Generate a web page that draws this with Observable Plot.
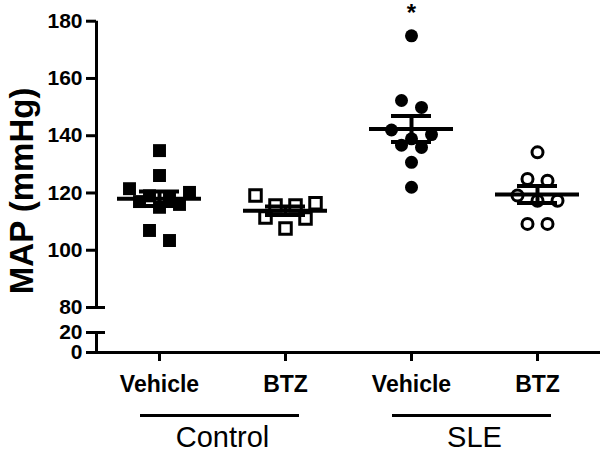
<!DOCTYPE html>
<html>
<head>
<meta charset="utf-8">
<script src="https://cdn.jsdelivr.net/npm/d3@7"></script>
<script src="https://cdn.jsdelivr.net/npm/@observablehq/plot@0.6"></script>
<style>
  body { margin: 0; background: #fff; }
  #chart svg { display: block; }
</style>
</head>
<body>
<div id="chart"></div>
<script>
// ---- data ----
const categories = ["Vehicle", "BTZ", "Vehicle", "BTZ"];
const groupNames = ["Control", "SLE"];
const groupOf = [0, 0, 1, 1];
const controlVehicle = [134.8, 126.1, 121.5, 120.2, 119, 118, 117, 116, 115, 106.9, 103.4];
const controlBTZ = [119.1, 116.4, 115.6, 115.6, 111.4, 107.6, 111.1];
const sleVehicle = [174.9, 152.3, 149.9, 142.0, 140.4, 138.9, 135.9, 136.7, 130.7, 122.0];
const sleBTZ = [134.2, 124.9, 124.3, 119.1, 117.3, 117.3, 109.2, 109.2];
const yTicks = [0, 20, 80, 100, 120, 140, 160, 180];
const yBreak = [20, 80];
const significance = [{index: 2, label: "*"}];
const yTitle = "MAP (mmHg)";

// ---- layout ----
const W = 600, H = 451, mL = 96, mR = 0, mT = 20.7, mB = 99;
const xDomain = [-0.5, 3.5];
const yDomain = [0, 20, 80, 180];
const yRange = [H - mB, H - mB - 20, H - mB - 45, mT];
const font = "'Liberation Sans', Arial, Helvetica, sans-serif";

const xScale = Plot.scale({x: {domain: xDomain, range: [mL, W - mR]}});
const yScale = Plot.scale({y: {type: "linear", domain: yDomain, range: yRange}});

// GraphPad-like scatter spreading: rows of near-equal values, spread symmetrically
function swarm(values, index, spacing = 20, rowH = 12.5) {
  const pts = values.map(v => ({v, py: yScale.apply(v)})).sort((a, b) => a.py - b.py);
  const rows = []; let cur = null;
  for (const p of pts) {
    if (!cur || p.py - cur[0].py >= rowH) { cur = [p]; rows.push(cur); } else cur.push(p);
  }
  const cx = xScale.apply(index);
  const out = [];
  for (const row of rows) {
    const n = row.length;
    const slots = d3.range(n).map(k => (k - (n - 1) / 2) * spacing);
    const order = []; let l = 0, r = n - 1, left = true;
    while (l <= r) { order.push(left ? l++ : r--); left = !left; }
    row.forEach((p, k) => out.push({index, value: p.v, x: xScale.invert(cx + slots[order[k]])}));
  }
  return out;
}

const series = [controlVehicle, controlBTZ, sleVehicle, sleBTZ];
const pts = series.map((vals, i) => swarm(vals, i));
const stats = series.map((vals, i) => {
  const m = d3.mean(vals), s = d3.deviation(vals) / Math.sqrt(vals.length);
  return {index: i, mean: m, lo: m - s, hi: m + s};
});
const groupData = groupNames.map((name, g) => {
  const idx = groupOf.map((gg, i) => gg === g ? i : null).filter(d => d !== null);
  return {name, first: d3.min(idx), last: d3.max(idx), mid: d3.mean(idx)};
});
const sigData = significance.map(s => ({...s, y: d3.max(series[s.index])}));
const axisSegments = [{lo: yDomain[0], hi: yBreak[0]}, {lo: yBreak[1], hi: yDomain[3]}];

const chart = Plot.plot({
  width: W, height: H,
  marginLeft: mL, marginRight: mR, marginTop: mT, marginBottom: mB,
  style: {fontFamily: font, background: "#fff", color: "#000", overflow: "visible"},
  x: {domain: xDomain},
  y: {type: "linear", domain: yDomain, range: yRange},
  marks: [
    // axis lines
    Plot.ruleX(axisSegments, {x: () => xDomain[0], y1: "lo", y2: "hi", stroke: "#000", strokeWidth: 3}),
    Plot.ruleY([yDomain[0]], {stroke: "#000", strokeWidth: 3}),
    Plot.ruleY(yBreak, {x1: () => xDomain[0], x2: () => xDomain[0], insetRight: -9, stroke: "#000", strokeWidth: 3}),
    Plot.axisY({ticks: yTicks, tickSize: 10, tickPadding: 4, strokeWidth: 3, fontSize: 21, fontWeight: "bold", label: null, tickFormat: d => String(d)}),
    Plot.axisX({ticks: [0, 1, 2, 3], tickFormat: i => categories[i], tickSize: 9, tickPadding: 14, strokeWidth: 3, fontSize: 23, fontWeight: "bold", label: null}),
    // points
    Plot.dot(pts[0], {x: "x", y: "value", symbol: "square", r: 7.3, fill: "#000"}),
    Plot.dot(pts[1], {x: "x", y: "value", symbol: "square", r: 6.5, fill: "#fff", stroke: "#000", strokeWidth: 3}),
    Plot.dot(pts[2], {x: "x", y: "value", symbol: "circle", r: 6.5, fill: "#000"}),
    Plot.dot(pts[3], {x: "x", y: "value", symbol: "circle", r: 5.5, fill: "#fff", stroke: "#000", strokeWidth: 3}),
    // mean and SEM
    Plot.ruleY(stats, {y: "mean", x1: "index", x2: "index", insetLeft: -42, insetRight: -42, stroke: "#000", strokeWidth: 4}),
    Plot.ruleX(stats, {x: "index", y1: "lo", y2: "hi", stroke: "#000", strokeWidth: 4}),
    Plot.ruleY(stats, {y: "lo", x1: "index", x2: "index", insetLeft: -20, insetRight: -20, stroke: "#000", strokeWidth: 4}),
    Plot.ruleY(stats, {y: "hi", x1: "index", x2: "index", insetLeft: -20, insetRight: -20, stroke: "#000", strokeWidth: 4}),
    // significance
    Plot.text(sigData, {x: "index", y: "y", text: "label", dy: -22, fontSize: 24, fontWeight: "bold", fill: "#000"}),
    // group brackets
    Plot.ruleY(groupData, {y: () => yDomain[0], x1: "first", x2: "last", dy: 63, insetLeft: -19, insetRight: -14, stroke: "#000", strokeWidth: 3}),
    Plot.text(groupData, {x: "mid", y: () => yDomain[0], text: "name", dy: 85, fontSize: 29, fontWeight: "normal", fill: "#000"}),
    // y title
    Plot.text([yTitle], {text: d => d, frameAnchor: "left", textAnchor: "middle", lineAnchor: "middle", rotate: -90, dx: -74, dy: 4, fontSize: 33, fontWeight: "bold", fill: "#000"})
  ]
});
document.getElementById("chart").appendChild(chart);
</script>
</body>
</html>
